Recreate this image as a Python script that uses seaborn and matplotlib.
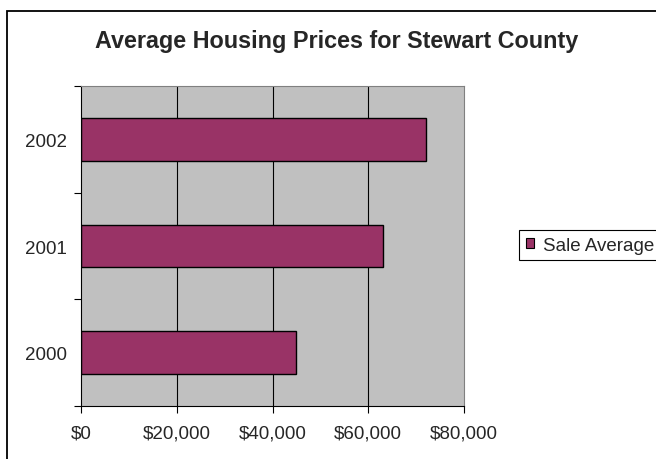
import seaborn as sns
import matplotlib.pyplot as plt
import matplotlib.ticker as mticker
from matplotlib.patches import Patch, Rectangle
import pandas as pd

years = ["2002", "2001", "2000"]
sale_average = [72000, 63000, 45000]
x_ticks = [0, 20000, 40000, 60000, 80000]
title = "Average Housing Prices for Stewart County"
series_name = "Sale Average"

sns.set_style("white")
plt.rcParams['font.family'] = ['Liberation Sans', 'DejaVu Sans']

bar_color = "#993366"
df = pd.DataFrame({"Year": years, "Sale": sale_average})

fig = plt.figure(figsize=(6.56, 4.6), dpi=100)
ax = fig.add_axes([81 / 656, 1 - 407 / 460, (464 - 81) / 656, 320 / 460])
ax.set_facecolor("#C0C0C0")

sns.barplot(
    data=df,
    x="Sale",
    y="Year",
    order=years,
    orient="h",
    color=bar_color,
    saturation=1,
    width=0.4,
    edgecolor="black",
    linewidth=1,
    ax=ax
)

ax.set_xlim(0, 80000)
ax.set_ylim(2.5, -0.5)
ax.set_xticks(x_ticks)
ax.xaxis.set_major_formatter(mticker.FuncFormatter(lambda v, p: f"${v:,.0f}"))
ax.set_xlabel("")
ax.set_ylabel("")

# vertical gridlines behind the bars
for v in x_ticks[1:-1]:
    ax.axvline(v, color="black", lw=0.8, zorder=0)

# category boundary ticks on the y axis
ax.set_yticks([-0.5, 0.5, 1.5, 2.5], minor=True)
ax.tick_params(axis="y", which="minor", length=5, width=0.8, color="black", direction="out", left=True)
ax.tick_params(axis="y", which="major", length=0, pad=10, labelsize=13.5)
ax.tick_params(axis="x", which="major", length=5, width=0.8, color="black", direction="out",
               bottom=True, pad=8, labelsize=13.5)

for side in ["left", "bottom"]:
    ax.spines[side].set_color("black")
    ax.spines[side].set_linewidth(0.8)
for side in ["top", "right"]:
    ax.spines[side].set_color("#808080")
    ax.spines[side].set_linewidth(0.8)

fig.text(337 / 656, 1 - 48 / 460, title, ha="center", va="baseline",
         fontsize=16.8, fontweight="bold")

fig.legend(
    handles=[Patch(facecolor=bar_color, edgecolor="black", linewidth=0.8, label=series_name)],
    loc="upper left",
    bbox_to_anchor=(519 / 656, 1 - 231 / 460),
    fontsize=13.5,
    frameon=True,
    fancybox=False,
    edgecolor="black",
    framealpha=1,
    borderpad=0.35,
    handlelength=0.46,
    handleheight=0.5,
    handletextpad=0.45,
    borderaxespad=0
)
fig.legends[0].get_frame().set_linewidth(0.8)

# chart area border, runs past the right and bottom edges
fig.patches.append(Rectangle((7 / 656, -0.1), 1.2, 1.1 - 12 / 460,
                             transform=fig.transFigure, fill=False,
                             edgecolor="black", linewidth=1.3))

plt.savefig("out.png", dpi=100)
